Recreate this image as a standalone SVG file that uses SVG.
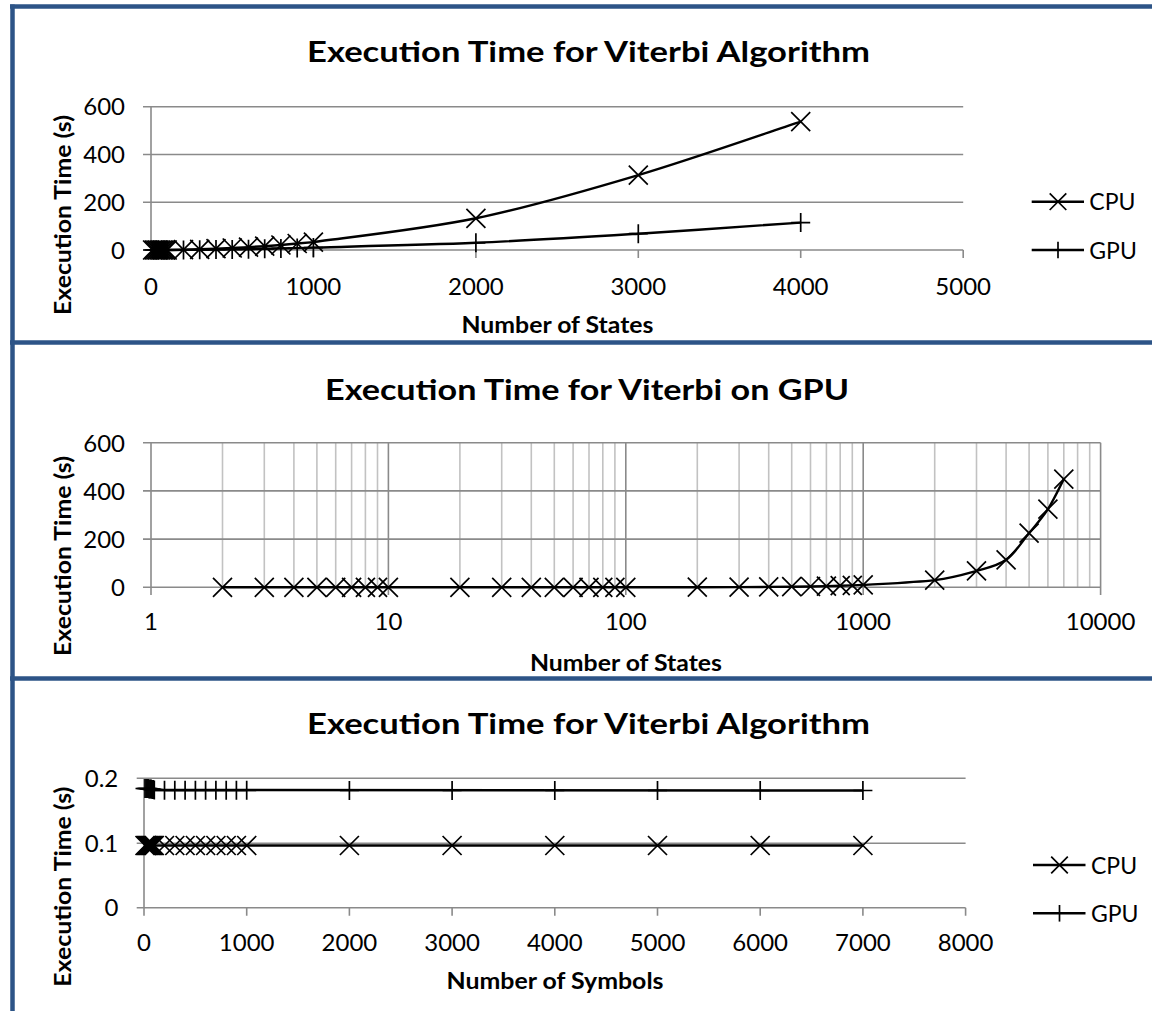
<svg xmlns="http://www.w3.org/2000/svg" xmlns:xlink="http://www.w3.org/1999/xlink" width="1152" height="1011" viewBox="0 0 1152 1011">
  <style>
    .frame { stroke: #2d5487; stroke-width: 4.5; fill: none; }
    .grid { stroke: #8a8a8a; stroke-width: 1.6; fill: none; }
    .minor { stroke: #c2c2c2; stroke-width: 1.6; fill: none; }
    .series { stroke: #000; stroke-width: 2.4; fill: none; stroke-linejoin: round; }
    .mk { stroke: #000; stroke-width: 1.7; fill: none; }
    .tick { font-family: Lato, "Liberation Sans", sans-serif; font-size: 24px; fill: #000; }
    .ttl { font-family: Lato, "Liberation Sans", sans-serif; font-size: 29px; font-weight: 700; fill: #000; text-anchor: middle; }
    .axt { font-family: Lato, "Liberation Sans", sans-serif; font-size: 23px; font-weight: 700; fill: #000; text-anchor: middle; }
    .leg { font-family: Lato, "Liberation Sans", sans-serif; font-size: 23px; fill: #000; }
    .r { text-anchor: end; }
    .m { text-anchor: middle; }
  </style>
  <defs>
    <path id="xm" class="mk" d="M-9.5,-9.5 L9.5,9.5 M-9.5,9.5 L9.5,-9.5"/>
    <path id="pm" class="mk" d="M-9.5,0 L9.5,0 M0,-9.5 L0,9.5"/>
    <path id="xl" class="mk" d="M-8.3,-8.3 L8.3,8.3 M-8.3,8.3 L8.3,-8.3"/>
    <path id="pl" class="mk" d="M0,-8.3 L0,8.3"/>
  </defs>

  <rect width="1152" height="1011" fill="#fff"/>

  <!-- panel frame -->
  <g id="frame">
    <line class="frame" x1="12.5" y1="4.5" x2="12.5" y2="1011"/>
    <line class="frame" x1="10" y1="6.5" x2="1152" y2="6.5"/>
    <line class="frame" x1="10" y1="342.5" x2="1152" y2="342.5"/>
    <line class="frame" x1="10" y1="678.5" x2="1152" y2="678.5"/>
  </g>

  <!-- ============ Chart 1: execution time vs number of states ============ -->
  <g id="chart1">
    <g id="chart1-axes">
      <path class="grid" d="M143,106.7H963.2 M143,154.5H963.2 M143,202.3H963.2 M143,250H963.2"/>
      <path class="grid" d="M151,106.7V258 M313.4,250V258 M475.9,250V258 M638.3,250V258 M800.7,250V258 M963.2,250V258"/>
    </g>
    <text class="ttl" x="588.5" y="62" textLength="563" lengthAdjust="spacingAndGlyphs">Execution Time for Viterbi Algorithm</text>
    <g id="chart1-ylabels" class="tick r">
      <text x="125" y="115.3">600</text>
      <text x="125" y="163.1">400</text>
      <text x="125" y="210.9">200</text>
      <text x="125" y="258.6">0</text>
    </g>
    <g id="chart1-xlabels" class="tick m">
      <text x="151" y="294.5">0</text>
      <text x="313.4" y="294.5">1000</text>
      <text x="475.9" y="294.5">2000</text>
      <text x="638.3" y="294.5">3000</text>
      <text x="800.7" y="294.5">4000</text>
      <text x="963.2" y="294.5">5000</text>
    </g>
    <text class="axt" x="557.5" y="332.5" textLength="192" lengthAdjust="spacingAndGlyphs">Number of States</text>
    <text class="axt" transform="translate(70.5,215) rotate(-90)" textLength="200" lengthAdjust="spacingAndGlyphs">Execution Time (s)</text>

    <g id="chart1-series">
      <path id="c1-cpu" class="series" d="M152.6,250 L167.2,250 L183.5,249.7 L199.7,249.3 L216,248.7 L232.2,248 L248.5,247.1 L264.7,246.2 L280.9,245 L297.2,243.5 L313.4,242.1 C343.2,237.9 421.75,229.47 475.9,218.3 C530.05,207.13 584.17,191.22 638.3,175.1 C692.43,158.98 773.63,130.52 800.7,121.6"/>
      <path id="c1-gpu" class="series" d="M152.6,250 L167.2,250 L183.5,249.9 L199.7,249.8 L216,249.6 L232.2,249.4 L248.5,249.2 L264.7,248.8 L280.9,248.4 L297.2,248.1 L313.4,247.6 C343.18,246.72 421.75,245.12 475.9,242.8 C530.05,240.48 584.17,237.07 638.3,233.7 C692.43,230.33 773.63,224.45 800.7,222.6"/>
      <g id="c1-cpu-markers">
        <use href="#xm" x="152.6" y="250"/><use href="#xm" x="154.2" y="250"/><use href="#xm" x="155.9" y="250"/>
        <use href="#xm" x="157.5" y="250"/><use href="#xm" x="159.1" y="250"/><use href="#xm" x="160.7" y="250"/>
        <use href="#xm" x="162.4" y="250"/><use href="#xm" x="164" y="250"/><use href="#xm" x="165.6" y="250"/>
        <use href="#xm" x="167.2" y="250"/>
        <use href="#xm" x="183.5" y="249.7"/><use href="#xm" x="199.7" y="249.3"/><use href="#xm" x="216" y="248.7"/>
        <use href="#xm" x="232.2" y="248"/><use href="#xm" x="248.5" y="247.1"/><use href="#xm" x="264.7" y="246.2"/>
        <use href="#xm" x="280.9" y="245"/><use href="#xm" x="297.2" y="243.5"/><use href="#xm" x="313.4" y="242.1"/>
        <use href="#xm" x="475.9" y="218.3"/><use href="#xm" x="638.3" y="175.1"/><use href="#xm" x="800.7" y="121.6"/>
      </g>
      <g id="c1-gpu-markers">
        <use href="#pm" x="152.6" y="250"/><use href="#pm" x="154.2" y="250"/><use href="#pm" x="155.9" y="250"/>
        <use href="#pm" x="157.5" y="250"/><use href="#pm" x="159.1" y="250"/><use href="#pm" x="160.7" y="250"/>
        <use href="#pm" x="162.4" y="250"/><use href="#pm" x="164" y="250"/><use href="#pm" x="165.6" y="250"/>
        <use href="#pm" x="167.2" y="250"/>
        <use href="#pm" x="183.5" y="249.9"/><use href="#pm" x="199.7" y="249.8"/><use href="#pm" x="216" y="249.6"/>
        <use href="#pm" x="232.2" y="249.4"/><use href="#pm" x="248.5" y="249.2"/><use href="#pm" x="264.7" y="248.8"/>
        <use href="#pm" x="280.9" y="248.4"/><use href="#pm" x="297.2" y="248.1"/><use href="#pm" x="313.4" y="247.6"/>
        <use href="#pm" x="475.9" y="242.8"/><use href="#pm" x="638.3" y="233.7"/><use href="#pm" x="800.7" y="222.6"/>
      </g>
    </g>

    <g id="chart1-legend">
      <line class="series" x1="1031.7" y1="201.7" x2="1084" y2="201.7"/>
      <use href="#xl" x="1058" y="201.7"/>
      <text class="leg" x="1089.3" y="209.6">CPU</text>
      <line class="series" x1="1031.7" y1="250" x2="1084" y2="250"/>
      <use href="#pl" x="1058" y="250"/>
      <text class="leg" x="1089.3" y="258.6">GPU</text>
    </g>
  </g>

  <!-- ============ Chart 2: GPU execution time, logarithmic state axis ============ -->
  <g id="chart2">
    <g id="chart2-axes">
      <path class="minor" d="M222.5,442.7V587.3 M264.3,442.7V587.3 M293.9,442.7V587.3 M316.9,442.7V587.3 M335.7,442.7V587.3 M351.6,442.7V587.3 M365.4,442.7V587.3 M377.5,442.7V587.3
        M459.9,442.7V587.3 M501.7,442.7V587.3 M531.3,442.7V587.3 M554.3,442.7V587.3 M573.1,442.7V587.3 M589,442.7V587.3 M602.8,442.7V587.3 M614.9,442.7V587.3
        M697.3,442.7V587.3 M739.1,442.7V587.3 M768.7,442.7V587.3 M791.7,442.7V587.3 M810.5,442.7V587.3 M826.4,442.7V587.3 M840.2,442.7V587.3 M852.3,442.7V587.3
        M934.7,442.7V587.3 M976.5,442.7V587.3 M1006.1,442.7V587.3 M1029.1,442.7V587.3 M1047.9,442.7V587.3 M1063.8,442.7V587.3 M1077.6,442.7V587.3 M1089.7,442.7V587.3"/>
      <path class="grid" d="M143,442.7H1100.6 M143,490.9H1100.6 M143,539.1H1100.6 M143,587.3H1100.6"/>
      <path class="grid" d="M151,442.7V595 M388.4,442.7V595 M625.8,442.7V595 M863.2,442.7V595 M1100.6,442.7V595"/>
    </g>
    <text class="ttl" x="587" y="400" textLength="524" lengthAdjust="spacingAndGlyphs">Execution Time for Viterbi on GPU</text>
    <g id="chart2-ylabels" class="tick r">
      <text x="125" y="451.5">600</text>
      <text x="125" y="499.6">400</text>
      <text x="125" y="547.8">200</text>
      <text x="125" y="596">0</text>
    </g>
    <g id="chart2-xlabels" class="tick m">
      <text x="151" y="630">1</text>
      <text x="388.4" y="630">10</text>
      <text x="625.8" y="630">100</text>
      <text x="863.2" y="630">1000</text>
      <text x="1100.6" y="630">10000</text>
    </g>
    <text class="axt" x="626" y="670.5" textLength="192" lengthAdjust="spacingAndGlyphs">Number of States</text>
    <text class="axt" transform="translate(70.5,556) rotate(-90)" textLength="200" lengthAdjust="spacingAndGlyphs">Execution Time (s)</text>

    <g id="chart2-series">
      <path class="series" d="M222.5,587.3 L625.8,587.3 L697.3,587.2 L739.1,587.1 L768.7,586.9 L791.7,586.7 L810.5,586.5 L826.4,586.1 L840.2,585.7 L852.3,585.4 L863.2,584.9 C876.93,584.02 915.82,582.43 934.7,580.1 C953.58,577.77 964.6,574.28 976.5,570.9 C988.4,567.52 997.33,566.1 1006.1,559.8 C1014.87,553.5 1022.13,541.53 1029.1,533.1 C1036.07,524.67 1042.12,518.2 1047.9,509.2 C1053.68,500.2 1061.15,484.12 1063.8,479.1"/>
      <g id="c2-markers">
        <use href="#xm" x="222.5" y="587.3"/><use href="#xm" x="264.3" y="587.3"/><use href="#xm" x="293.9" y="587.3"/>
        <use href="#xm" x="316.9" y="587.3"/><use href="#xm" x="335.7" y="587.3"/><use href="#xm" x="351.6" y="587.3"/>
        <use href="#xm" x="365.4" y="587.3"/><use href="#xm" x="377.5" y="587.3"/><use href="#xm" x="388.4" y="587.3"/>
        <use href="#xm" x="459.9" y="587.3"/><use href="#xm" x="501.7" y="587.3"/><use href="#xm" x="531.3" y="587.3"/>
        <use href="#xm" x="554.3" y="587.3"/><use href="#xm" x="573.1" y="587.3"/><use href="#xm" x="589" y="587.3"/>
        <use href="#xm" x="602.8" y="587.3"/><use href="#xm" x="614.9" y="587.3"/><use href="#xm" x="625.8" y="587.3"/>
        <use href="#xm" x="697.3" y="587.2"/><use href="#xm" x="739.1" y="587.1"/><use href="#xm" x="768.7" y="586.9"/>
        <use href="#xm" x="791.7" y="586.7"/><use href="#xm" x="810.5" y="586.5"/><use href="#xm" x="826.4" y="586.1"/>
        <use href="#xm" x="840.2" y="585.7"/><use href="#xm" x="852.3" y="585.4"/><use href="#xm" x="863.2" y="584.9"/>
        <use href="#xm" x="934.7" y="580.1"/><use href="#xm" x="976.5" y="570.9"/><use href="#xm" x="1006.1" y="559.8"/>
        <use href="#xm" x="1029.1" y="533.1"/><use href="#xm" x="1047.9" y="509.2"/><use href="#xm" x="1063.8" y="479.1"/>
      </g>
    </g>
  </g>

  <!-- ============ Chart 3: execution time vs number of symbols ============ -->
  <g id="chart3">
    <g id="chart3-axes">
      <path class="grid" d="M136.7,778.3H965.6 M136.7,843.3H965.6 M136.7,907.7H965.6"/>
      <path class="grid" d="M144,778.3V915.7 M246.7,907.7V915.7 M349.4,907.7V915.7 M452.1,907.7V915.7 M554.8,907.7V915.7 M657.5,907.7V915.7 M760.2,907.7V915.7 M862.9,907.7V915.7 M965.6,907.7V915.7"/>
    </g>
    <text class="ttl" x="588.5" y="733.5" textLength="563" lengthAdjust="spacingAndGlyphs">Execution Time for Viterbi Algorithm</text>
    <g id="chart3-ylabels" class="tick r">
      <text x="118.3" y="786.9">0.2</text>
      <text x="118.3" y="851.9">0.1</text>
      <text x="118.3" y="916.3">0</text>
    </g>
    <g id="chart3-xlabels" class="tick m">
      <text x="144" y="951">0</text>
      <text x="246.7" y="951">1000</text>
      <text x="349.4" y="951">2000</text>
      <text x="452.1" y="951">3000</text>
      <text x="554.8" y="951">4000</text>
      <text x="657.5" y="951">5000</text>
      <text x="760.2" y="951">6000</text>
      <text x="862.9" y="951">7000</text>
      <text x="965.6" y="951">8000</text>
    </g>
    <text class="axt" x="555" y="988.5" textLength="217" lengthAdjust="spacingAndGlyphs">Number of Symbols</text>
    <text class="axt" transform="translate(70.5,886.7) rotate(-90)" textLength="200" lengthAdjust="spacingAndGlyphs">Execution Time (s)</text>

    <g id="chart3-series">
      <path id="c3-gpu" class="series" d="M145,789 L154.3,790 L862.9,790.5"/>
      <path id="c3-cpu" class="series" d="M145,845.5 L862.9,845.5"/>
      <g id="c3-gpu-markers">
        <use href="#pm" x="145" y="788.5"/><use href="#pm" x="146.1" y="788.5"/><use href="#pm" x="147.1" y="788.5"/>
        <use href="#pm" x="148.1" y="788.5"/><use href="#pm" x="149.1" y="789"/><use href="#pm" x="150.2" y="789"/>
        <use href="#pm" x="151.2" y="789"/><use href="#pm" x="152.2" y="789.5"/><use href="#pm" x="153.2" y="789.5"/>
        <use href="#pm" x="154.3" y="790"/>
        <use href="#pm" x="164.5" y="790.3"/><use href="#pm" x="174.8" y="790.3"/><use href="#pm" x="185.1" y="790.3"/>
        <use href="#pm" x="195.4" y="790.3"/><use href="#pm" x="205.6" y="790.3"/><use href="#pm" x="215.9" y="790.3"/>
        <use href="#pm" x="226.2" y="790.3"/><use href="#pm" x="236.4" y="790.3"/><use href="#pm" x="246.7" y="790.3"/>
        <use href="#pm" x="349.4" y="790.4"/><use href="#pm" x="452.1" y="790.4"/><use href="#pm" x="554.8" y="790.4"/>
        <use href="#pm" x="657.5" y="790.5"/><use href="#pm" x="760.2" y="790.5"/><use href="#pm" x="862.9" y="790.5"/>
      </g>
      <g id="c3-cpu-markers">
        <use href="#xm" x="145" y="845.5"/><use href="#xm" x="146.1" y="845.5"/><use href="#xm" x="147.1" y="845.5"/>
        <use href="#xm" x="148.1" y="845.5"/><use href="#xm" x="149.1" y="845.5"/><use href="#xm" x="150.2" y="845.5"/>
        <use href="#xm" x="151.2" y="845.5"/><use href="#xm" x="152.2" y="845.5"/><use href="#xm" x="153.2" y="845.5"/>
        <use href="#xm" x="154.3" y="845.5"/>
        <use href="#xm" x="164.5" y="845.5"/><use href="#xm" x="174.8" y="845.5"/><use href="#xm" x="185.1" y="845.5"/>
        <use href="#xm" x="195.4" y="845.5"/><use href="#xm" x="205.6" y="845.5"/><use href="#xm" x="215.9" y="845.5"/>
        <use href="#xm" x="226.2" y="845.5"/><use href="#xm" x="236.4" y="845.5"/><use href="#xm" x="246.7" y="845.5"/>
        <use href="#xm" x="349.4" y="845.5"/><use href="#xm" x="452.1" y="845.5"/><use href="#xm" x="554.8" y="845.5"/>
        <use href="#xm" x="657.5" y="845.5"/><use href="#xm" x="760.2" y="845.5"/><use href="#xm" x="862.9" y="845.5"/>
      </g>
    </g>

    <g id="chart3-legend">
      <line class="series" x1="1033" y1="865" x2="1085.5" y2="865"/>
      <use href="#xl" x="1059.5" y="865"/>
      <text class="leg" x="1091" y="873.6">CPU</text>
      <line class="series" x1="1033" y1="913.3" x2="1085.5" y2="913.3"/>
      <use href="#pl" x="1059.5" y="913.3"/>
      <text class="leg" x="1091" y="922">GPU</text>
    </g>
  </g>
</svg>
